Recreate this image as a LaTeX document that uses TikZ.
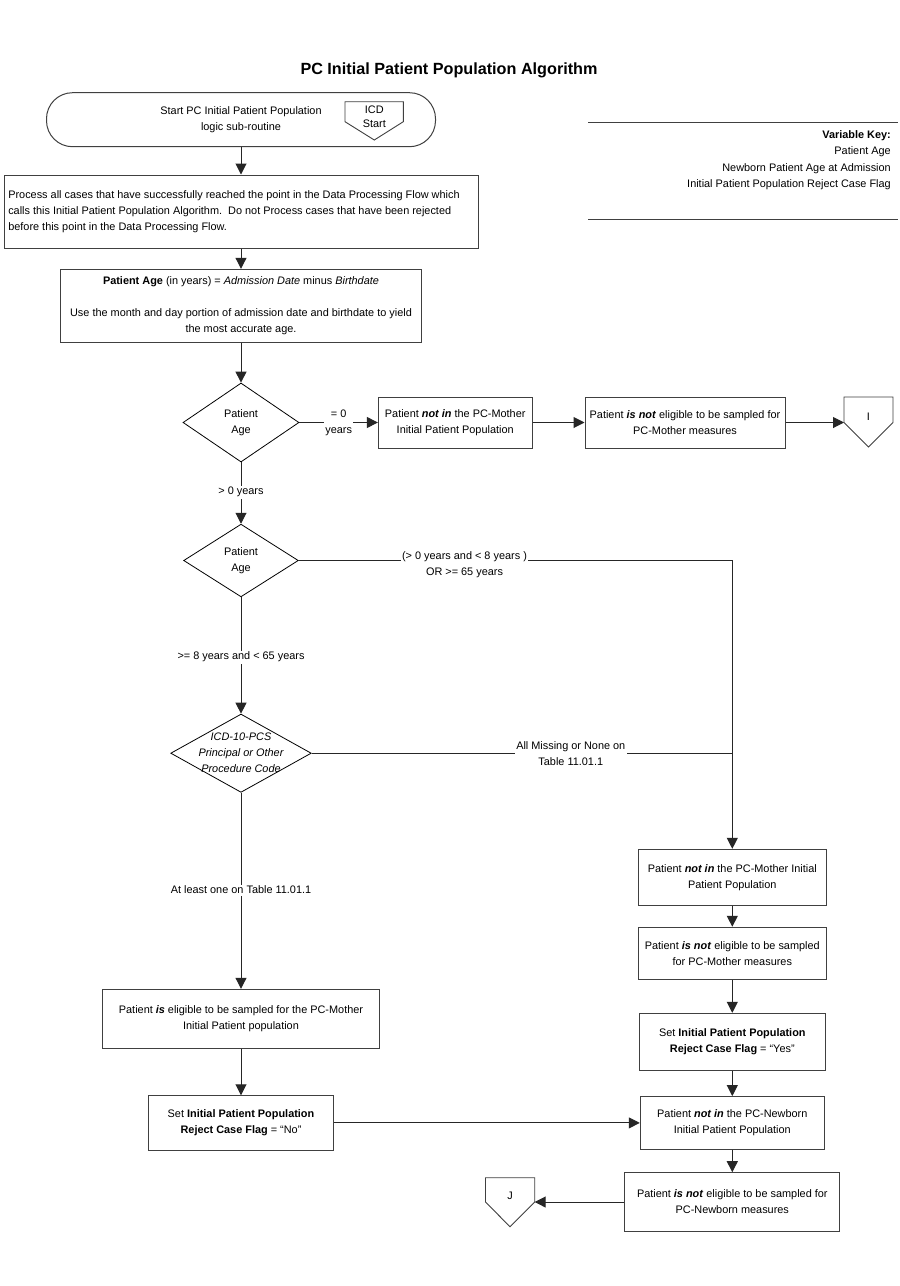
\documentclass[tikz,border=0pt]{standalone}
\usepackage{fontspec}
\setmainfont{Liberation Sans}
\usetikzlibrary{arrows.meta,shapes.geometric}
\begin{document}
\begin{tikzpicture}[x=1pt,y=-1pt,
  font=\fontsize{10.9}{16}\selectfont,
  box/.style={draw=black!75, line width=1pt, align=center, inner sep=2pt},
  dia/.style={draw=black, line width=0.8pt, diamond, inner sep=0pt, align=center},
  conn/.style={line width=1pt, draw=black!85},
  arr/.style={conn, -{Triangle[length=11pt,width=11pt]}},
  lbl/.style={fill=white, inner sep=1.5pt, align=center},
  pent/.style={draw=black!75, line width=0.9pt},
]
\fill[white] (0,0) rectangle (900,1286);
\useasboundingbox (0,0) rectangle (900,1286);

% title
\node[font=\fontsize{16.2}{19}\selectfont\bfseries] (title) at (449,70) {PC Initial Patient Population Algorithm};

% start terminator
\node[draw=black!75, line width=1pt, rounded corners=26pt, minimum width=389pt, minimum height=54pt, align=center] (start) at (241,119.7) {Start PC Initial Patient Population\\logic sub-routine};
\node[align=center, inner sep=0pt, font=\fontsize{10.9}{14}\selectfont] (icd) at (374.3,116.3) {ICD\\Start};
\draw[pent] (345,101.7) -- (403.3,101.7) -- (403.3,121.7) -- (374.3,140) -- (345,121.7) -- cycle;

% variable key
\draw[line width=1pt, black!75] (588,122.3) -- (898,122.3);
\draw[line width=1pt, black!75] (588,219) -- (898,219);
\node[align=right, anchor=east, inner sep=0pt, font=\fontsize{10.9}{16.5}\selectfont] (vkey) at (891,160) {\textbf{Variable Key:}\\Patient Age\\Newborn Patient Age at Admission\\Initial Patient Population Reject Case Flag};

% main column
\node[box, minimum width=474pt, minimum height=73pt, inner xsep=4.3pt, text width=465.4pt, align=flush left] (proc) at (241,211.5) {Process all cases that have successfully reached the point in the Data Processing Flow which\\calls this Initial Patient Population Algorithm.\ \ Do not Process cases that have been rejected\\before this point in the Data Processing Flow.};

\node[box, minimum width=360.7pt, minimum height=73pt] (age) at (241,305.8) {\textbf{Patient Age} (in years) = \textit{Admission Date} minus \textit{Birthdate}\\[16pt]Use the month and day portion of admission date and birthdate to yield\\the most accurate age.};

\node[dia, minimum width=116pt, minimum height=79pt] (d1) at (241,422.5) {Patient\\Age};
\node[box, minimum width=153.7pt, minimum height=51pt] (b2) at (455.2,422.5) {Patient \textbf{\textit{not in}} the PC-Mother\\Initial Patient Population};
\node[box, minimum width=200pt, minimum height=51pt] (b3) at (685,422.5) {Patient \textbf{\textit{is not}} eligible to be sampled for\\PC-Mother measures};
\node[inner sep=0pt] (penI) at (868.5,416.7) {I};
\draw[pent] (844,397) -- (893,397) -- (893,422.5) -- (868.5,447) -- (844,422.5) -- cycle;
\coordinate (penIin) at (844,422.5);

\node[dia, minimum width=114.7pt, minimum height=72.7pt] (d2) at (241,560.5) {Patient\\Age};

\node[dia, minimum width=140.6pt, minimum height=78.3pt] (d3) at (241,753.2) {};
\node[align=center, inner sep=0pt, font=\fontsize{10.9}{16.2}\selectfont\itshape] (d3t) at (241,753) {ICD-10-PCS\\Principal or Other\\Procedure Code};

\node[box, minimum width=276.3pt, minimum height=59pt] (elig) at (241,1018.8) {Patient \textbf{\textit{is}} eligible to be sampled for the PC-Mother\\Initial Patient population};
\node[box, minimum width=185pt, minimum height=54.3pt] (setNo) at (241,1122.9) {Set \textbf{Initial Patient Population}\\\textbf{Reject Case Flag} = “No”};

% right column
\node[box, minimum width=188pt, minimum height=56pt] (R1) at (732.3,877.3) {Patient \textbf{\textit{not in}} the PC-Mother Initial\\Patient Population};
\node[box, minimum width=188pt, minimum height=52.7pt] (R2) at (732.3,953.6) {Patient \textbf{\textit{is not}} eligible to be sampled\\for PC-Mother measures};
\node[box, minimum width=186.4pt, minimum height=56.7pt] (R3) at (732.3,1041.7) {Set \textbf{Initial Patient Population}\\\textbf{Reject Case Flag} = “Yes”};
\node[box, minimum width=184pt, minimum height=52.6pt] (R4) at (732.3,1122.9) {Patient \textbf{\textit{not in}} the PC-Newborn\\Initial Patient Population};
\node[box, minimum width=214.7pt, minimum height=58.6pt] (R5) at (732.3,1202) {Patient \textbf{\textit{is not}} eligible to be sampled for\\PC-Newborn measures};
\node[inner sep=0pt] (penJ) at (510,1196) {J};
\draw[pent] (485.5,1177.7) -- (534.7,1177.7) -- (534.7,1202) -- (510,1226.7) -- (485.5,1202) -- cycle;
\coordinate (penJin) at (534.7,1202);

% connectors
\draw[arr] (start.south) -- (proc.north);
\draw[arr] (proc.south) -- (age.north);
\draw[arr] (age.south) -- (d1.north);
\draw[arr] (d1.east) -- node[lbl]{= 0\\years} (b2.west);
\draw[arr] (b2.east) -- (b3.west);
\draw[arr] (b3.east) -- (penIin);
\draw[arr] (d1.south) -- node[lbl,pos=0.484]{> 0 years} (d2.north);
\draw[arr] (d2.east) -| (R1.north);
\node[lbl] (l2) at (464.5,564.3) {(> 0 years and < 8 years )\\OR >= 65 years};
\draw[arr] (d2.south) -- node[lbl,pos=0.514]{>= 8 years and < 65 years} (d3.north);
\draw[conn] (d3.east) -- node[lbl,pos=0.616]{All Missing or None on\\Table 11.01.1} (d3.east -| R1.north);
\draw[arr] (d3.south) -- node[lbl,pos=0.496]{At least one on Table 11.01.1} (elig.north);
\draw[arr] (elig.south) -- (setNo.north);
\draw[arr] (setNo.east) -- (R4.west);
\draw[arr] (R1.south) -- (R2.north);
\draw[arr] (R2.south) -- (R3.north);
\draw[arr] (R3.south) -- (R4.north);
\draw[arr] (R4.south) -- (R5.north);
\draw[arr] (R5.west) -- (penJin);
\end{tikzpicture}
\end{document}
